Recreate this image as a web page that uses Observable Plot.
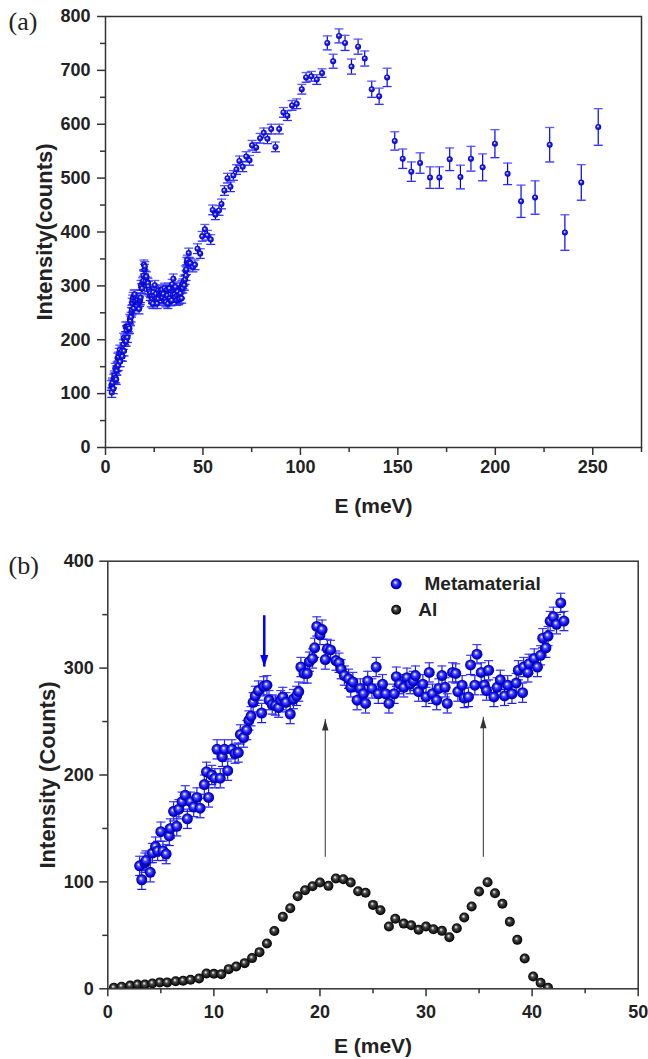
<!DOCTYPE html>
<html><head><meta charset="utf-8">
<script src="https://cdn.jsdelivr.net/npm/d3@7"></script>
<script src="https://cdn.jsdelivr.net/npm/@observablehq/plot@0.6"></script>
<style>
body{margin:0;background:#fff;}
#chart svg{display:block;}
</style></head><body>
<svg width="0" height="0" style="position:absolute">
<defs>
<radialGradient id="gBlue" cx="0.5" cy="0.5" r="0.5" fx="0.4" fy="0.36">
<stop offset="0%" stop-color="#ffffff"/>
<stop offset="14%" stop-color="#c8c8ff"/>
<stop offset="34%" stop-color="#5050ff"/>
<stop offset="70%" stop-color="#0a0ae8"/>
<stop offset="100%" stop-color="#00009a"/>
</radialGradient>
<radialGradient id="gBlueSmall" cx="0.5" cy="0.5" r="0.5" fx="0.42" fy="0.38">
<stop offset="0%" stop-color="#ffffff"/>
<stop offset="22%" stop-color="#b0b0ff"/>
<stop offset="45%" stop-color="#2020ff"/>
<stop offset="100%" stop-color="#0000c0"/>
</radialGradient>
<radialGradient id="gBlack" cx="0.5" cy="0.5" r="0.5" fx="0.4" fy="0.36">
<stop offset="0%" stop-color="#ffffff"/>
<stop offset="14%" stop-color="#bdbdbd"/>
<stop offset="36%" stop-color="#4a4a4a"/>
<stop offset="72%" stop-color="#1c1c1c"/>
<stop offset="100%" stop-color="#000000"/>
</radialGradient>
</defs></svg>
<div id="chart"></div>
<script>
// ---------- DATA ----------
// Metamaterial (panel b, also the low-energy part of panel a)
const metaE = [3.0,3.2,3.5,3.6,4.0,4.2,4.5,4.7,5.0,5.2,5.5,5.8,5.9,6.2,6.5,6.7,7.0,7.3,7.5,7.8,8.1,8.4,8.7,9.1,9.3,9.5,9.8,10.1,10.3,10.6,10.8,11.0,11.3,11.7,12.0,12.3,12.5,12.8,13.1,13.3,13.5,13.7,13.9,14.2,14.5,14.7,15.0,15.2,15.5,15.8,16.1,16.3,16.5,16.8,17.2,17.5,17.8,18.0,18.2,18.5,18.8,19.0,19.3,19.5,19.7,20.0,20.2,20.5,20.7,21.0,21.5,21.8,22.0,22.3,22.7,22.9,23.1,23.5,23.8,24.1,24.3,24.5,24.9,25.3,25.5,25.9,26.2,26.5,27.0,27.2,27.5,27.9,28.2,28.5,28.8,29.0,29.3,29.7,30.0,30.3,30.6,31.0,31.2,31.5,31.8,32.0,32.5,32.8,33.0,33.4,33.6,34.0,34.2,34.6,34.8,35.2,35.5,35.7,35.9,36.4,36.7,37.0,37.4,37.7,38.1,38.5,38.7,39.1,39.2,39.6,39.7,40.2,40.5,40.8,41.0,41.3,41.5,41.7,42.0,42.3,42.7,43.0];
const metaI = [115,102,118,120,109,127,133,129,147,129,126,143,150,166,152,168,175,181,159,175,170,179,169,191,203,179,200,197,224,197,217,224,204,224,220,221,238,235,242,251,255,268,274,279,258,283,284,270,266,265,263,270,273,268,257,271,274,278,301,295,295,306,309,319,339,331,336,308,318,317,307,305,299,293,290,282,287,270,281,276,267,288,281,301,276,285,276,267,276,292,285,282,291,285,288,293,278,285,273,296,276,270,281,293,282,267,296,295,278,284,272,273,303,284,313,296,284,279,298,273,282,289,274,284,276,286,298,277,301,296,304,309,301,312,328,319,330,344,348,341,361,344];
const metaErr = 9;

// Al (panel b)
const alE = [0.57,1.3,2.1,2.8,3.5,4.2,4.9,5.6,6.4,7.1,7.8,8.6,9.3,10.0,10.7,11.4,12.1,12.9,13.6,14.3,15.0,15.7,16.5,17.2,17.9,18.6,19.3,20.0,20.8,21.5,22.2,22.9,23.6,24.3,25.0,25.7,26.5,27.1,27.9,28.6,29.3,30.0,30.7,31.5,32.2,32.9,33.6,34.3,35.0,35.8,36.5,37.2,37.9,38.6,39.3,40.1,40.8,41.5];
const alI = [1,2,3,4,4,5,6,6,7,7.5,8.4,9.6,14.3,14,13.7,18.4,20.9,24,28.7,34.3,42.4,54,67.3,75.4,86.6,92.2,96,99.4,96.3,103.2,102.5,99.4,91.3,89.8,78.5,73.5,58.3,65.5,61,59.5,55.2,58.3,55.7,54.2,48.3,56.7,66.7,77,91,99.7,89.4,79.5,62.7,45.8,28.3,11.5,5.6,1];

// Panel (a): higher-energy points with their error bars
const aE = [43.5,44.8,45.9,47.2,48.6,49.6,51.0,52.3,54.0,55.0,56.4,58.2,59.5,61.0,62.6,64.1,65.6,67.2,68.7,70.4,72.2,73.9,75.2,77.3,79.3,81.2,83.1,85.0,87.2,89.1,91.3,93.3,95.7,98.1,100.7,102.9,105.6,108.4,111.1,113.8,116.8,119.8,122.9,126.2,129.6,133.0,136.6,140.4,144.5,148.4,152.5,156.9,161.4,166.5,171.3,176.6,182.1,187.5,193.5,199.8,206.3,213.2,220.4,227.9,235.7,244.1,252.8];
const aI = [342,335,339,369,360,392,405,394,386,441,432,440,452,477,500,484,505,516,532,521,540,533,561,557,574,584,573,591,558,591,622,616,635,638,665,687,689,683,695,751,717,764,751,707,744,722,665,652,687,569,536,512,528,501,501,535,502,536,520,564,508,457,464,562,399,492,595];
const aErr = [9,9,9,9,9,9,9,9,9,9,9,9,9,9,9,9,9,9,9,9,9,9,9,9,9,9,9,9,9,9,9,9,9,9,9,9,9,9,8,13,13,13,14,14,14,14,15,15,17,17,18,18,19,20,20,21,22,23,25,26,20,30,31,32,33,33,34];
const aLowErr = 9;

// Annotation arrows (panel b)
const blueArrowE = [14.75], blueArrowFrom = [349], blueArrowTo = [301];
const blackArrowE = [20.5, 35.4], blackArrowFrom = [123, 123], blackArrowTo = [252, 254];

// Ticks
const aXTicks = [0,50,100,150,200,250], aXMinor = [25,75,125,175,225,275];
const aYTicks = [0,100,200,300,400,500,600,700,800], aYMinor = [50,150,250,350,450,550,650,750];
const bXTicks = [0,10,20,30,40,50], bXMinor = [5,15,25,35,45];
const bYTicks = [0,100,200,300,400], bYMinor = [50,150,250,350];

// ---------- BUILD ----------
const meta = metaE.map((E, i) => ({E, I: metaI[i], err: metaErr}));
const al = alE.map((E, i) => ({E, I: alI[i]}));
const panelA = meta.map(d => ({E: d.E, I: d.I, err: aLowErr}))
  .concat(aE.map((E, i) => ({E, I: aI[i], err: aErr[i]})));
const blueArrow = blueArrowE.map((E, i) => ({E, from: blueArrowFrom[i], to: blueArrowTo[i]}));
const blackArrows = blackArrowE.map((E, i) => ({E, from: blackArrowFrom[i], to: blackArrowTo[i]}));

const capSym = w => ({draw(ctx) { ctx.moveTo(-w, 0); ctx.lineTo(w, 0); }});
const headUp = (L, W) => ({draw(ctx) { ctx.moveTo(0, 0); ctx.lineTo(W, L); ctx.lineTo(-W, L); ctx.closePath(); }});
const headDown = (L, W) => ({draw(ctx) { ctx.moveTo(0, 0); ctx.lineTo(W, -L); ctx.lineTo(-W, -L); ctx.closePath(); }});

const sans = "'Liberation Sans', Arial, Helvetica, sans-serif";
const serif = "'Liberation Serif', 'Times New Roman', serif";
const axisCol = "#333";

function axes(xT, xM, yT, yM, xPad, yPad) {
  return [
    Plot.axisX({ticks: xT, tickSize: 8, tickPadding: xPad, stroke: axisCol, strokeWidth: 1.5, label: null, tickFormat: d => String(d)}),
    Plot.axisX({ticks: xM, tickSize: 5, stroke: axisCol, strokeWidth: 1.5, text: null, label: null}),
    Plot.axisY({ticks: yT, tickSize: 8, tickPadding: yPad, stroke: axisCol, strokeWidth: 1.5, label: null, tickFormat: d => String(d)}),
    Plot.axisY({ticks: yM, tickSize: 5, stroke: axisCol, strokeWidth: 1.5, text: null, label: null}),
    Plot.frame({stroke: axisCol, strokeWidth: 1.5})
  ];
}

const plotA = Plot.plot({
  width: 648, height: 540,
  marginLeft: 105, marginRight: 7, marginTop: 16, marginBottom: 93,
  x: {domain: [0, 275]},
  y: {domain: [0, 800]},
  style: {fontFamily: sans, fontSize: "18px", fontWeight: "bold", color: "#222", background: "#fff"},
  marks: [
    Plot.ruleX(panelA, {x: "E", y1: d => d.I - d.err, y2: d => d.I + d.err, stroke: "#0000ff", strokeWidth: 1.2}),
    Plot.dot(panelA, {x: "E", y: d => d.I + d.err, symbol: capSym(4.5), r: 3, fill: "none", stroke: "#5a5aff", strokeWidth: 1.3}),
    Plot.dot(panelA, {x: "E", y: d => d.I - d.err, symbol: capSym(4.5), r: 3, fill: "none", stroke: "#2a2aff", strokeWidth: 1.3}),
    Plot.dot(panelA, {x: "E", y: "I", r: 3, fill: "url(#gBlueSmall)", stroke: "none"}),
    ...axes(aXTicks, aXMinor, aYTicks, aYMinor, 5, 7),
    Plot.text(["E (meV)"], {text: d => d, frameAnchor: "bottom", dy: 59, fontSize: 21, fontWeight: "bold", lineAnchor: "middle", fill: "#222"}),
    Plot.text(["Intensity(counts)"], {text: d => d, frameAnchor: "left", dx: -61, rotate: -90, fontSize: 22, fontWeight: "bold", textAnchor: "middle", lineAnchor: "middle", fill: "#222"}),
    Plot.text(["(a)"], {text: d => d, frameAnchor: "top-left", dx: -97, dy: 13, textAnchor: "start", lineAnchor: "bottom", fontFamily: serif, fontSize: 26, fontWeight: "normal", fill: "#222"})
  ]
});

const plotB = Plot.plot({
  width: 648, height: 519,
  marginLeft: 107.3, marginRight: 10.3, marginTop: 20.7, marginBottom: 70.7,
  x: {domain: [0, 50]},
  y: {domain: [0, 400]},
  style: {fontFamily: sans, fontSize: "18px", fontWeight: "bold", color: "#222", background: "#fff"},
  marks: [
    Plot.dot(al, {x: "E", y: "I", r: 5, fill: "url(#gBlack)", stroke: "none", clip: true}),
    Plot.ruleX(meta, {x: "E", y1: d => d.I - d.err, y2: d => d.I + d.err, stroke: "#1a1aff", strokeWidth: 1.2}),
    Plot.dot(meta, {x: "E", y: d => d.I + d.err, symbol: capSym(4.5), r: 3, fill: "none", stroke: "#3a3aff", strokeWidth: 1.2}),
    Plot.dot(meta, {x: "E", y: d => d.I - d.err, symbol: capSym(4.5), r: 3, fill: "none", stroke: "#1a1aff", strokeWidth: 1.2}),
    Plot.dot(meta, {x: "E", y: "I", r: 5.5, fill: "url(#gBlue)", stroke: "none"}),
    // arrows
    Plot.ruleX(blueArrow, {x: "E", y1: "from", y2: "to", stroke: "#0000ff", strokeWidth: 2.5}),
    Plot.dot(blueArrow, {x: "E", y: "to", symbol: headDown(12, 4), r: 4, fill: "#0000ff", stroke: "none"}),
    Plot.ruleX(blackArrows, {x: "E", y1: "from", y2: "to", stroke: "#333", strokeWidth: 1}),
    Plot.dot(blackArrows, {x: "E", y: "to", symbol: headUp(11, 3.2), r: 4, fill: "#333", stroke: "none"}),
    // legend
    Plot.dot([0], {frameAnchor: "top-left", dx: 288.4, dy: 22.6, r: 5.5, fill: "url(#gBlue)", stroke: "none"}),
    Plot.dot([0], {frameAnchor: "top-left", dx: 288.4, dy: 48.6, r: 5, fill: "url(#gBlack)", stroke: "none"}),
    Plot.text(["Metamaterial"], {text: d => d, frameAnchor: "top-left", dx: 316.7, dy: 22.6, textAnchor: "start", lineAnchor: "middle", fontSize: 19, fontWeight: "bold", fill: "#222"}),
    Plot.text(["Al"], {text: d => d, frameAnchor: "top-left", dx: 310.4, dy: 48.6, textAnchor: "start", lineAnchor: "middle", fontSize: 19, fontWeight: "bold", fill: "#222"}),
    ...axes(bXTicks, bXMinor, bYTicks, bYMinor, 8, 6),
    Plot.text(["E (meV)"], {text: d => d, frameAnchor: "bottom", dy: 57.7, fontSize: 21, fontWeight: "bold", lineAnchor: "middle", fill: "#222"}),
    Plot.text(["Intensity (Counts)"], {text: d => d, frameAnchor: "left", dx: -59.5, rotate: -90, fontSize: 22, fontWeight: "bold", textAnchor: "middle", lineAnchor: "middle", fill: "#222"}),
    Plot.text(["(b)"], {text: d => d, frameAnchor: "top-left", dx: -99.3, dy: 12.3, textAnchor: "start", lineAnchor: "bottom", fontFamily: serif, fontSize: 26, fontWeight: "normal", fill: "#222"})
  ]
});

const chart = document.getElementById("chart");
chart.appendChild(plotA);
chart.appendChild(plotB);
</script>
</body></html>
